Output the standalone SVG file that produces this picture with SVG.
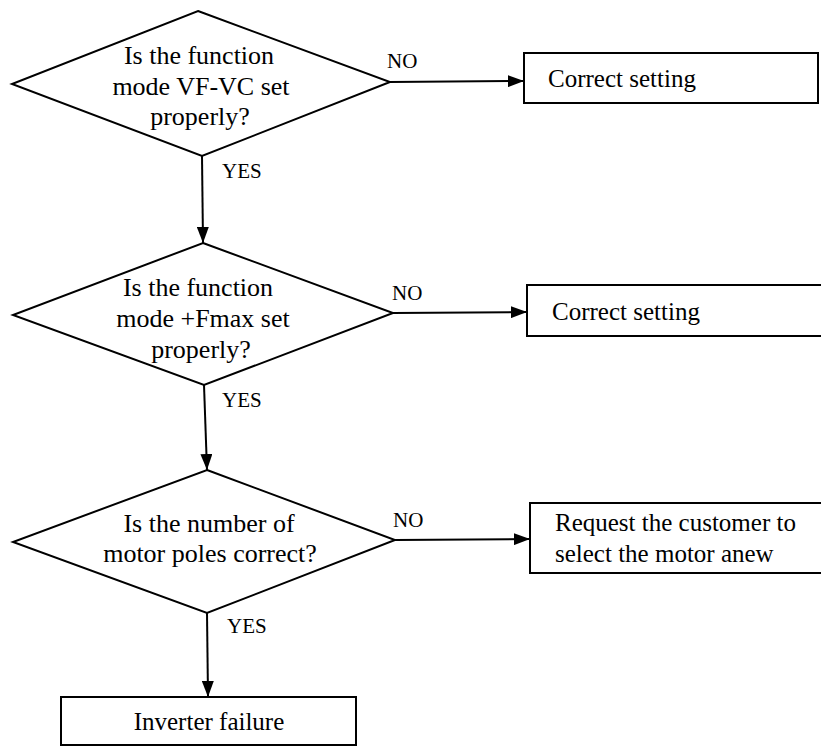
<svg xmlns="http://www.w3.org/2000/svg" width="821" height="749" viewBox="0 0 821 749">
<style>
.shape{fill:#fff;stroke:#000;stroke-width:2}
.ln{fill:none;stroke:#000;stroke-width:2}
.t{font-family:"Liberation Serif","Times New Roman",serif;font-size:26px;fill:#000}
.b{font-family:"Liberation Serif","Times New Roman",serif;font-size:25px;fill:#000}
.lab{font-family:"Liberation Serif","Times New Roman",serif;font-size:21px;fill:#000}
</style>
<defs>
<marker id="ah" markerWidth="16" markerHeight="12" refX="16" refY="6" orient="auto" markerUnits="userSpaceOnUse">
<path d="M0,0 L16,6 L0,12 Z" fill="#000"/>
</marker>
</defs>
<rect width="821" height="749" fill="#fff"/>
<g id="connectors">
<line class="ln" x1="390" y1="82" x2="524" y2="81" marker-end="url(#ah)"/>
<line class="ln" x1="202" y1="156" x2="203" y2="243" marker-end="url(#ah)"/>
<line class="ln" x1="393" y1="313" x2="527" y2="312" marker-end="url(#ah)"/>
<line class="ln" x1="204" y1="385" x2="207" y2="470" marker-end="url(#ah)"/>
<line class="ln" x1="395" y1="540" x2="530" y2="539" marker-end="url(#ah)"/>
<line class="ln" x1="207" y1="613" x2="208" y2="697" marker-end="url(#ah)"/>
<text class="lab" x="387" y="68">NO</text>
<text class="lab" x="222" y="178">YES</text>
<text class="lab" x="392" y="300">NO</text>
<text class="lab" x="222" y="407">YES</text>
<text class="lab" x="393" y="527">NO</text>
<text class="lab" x="227" y="633">YES</text>
</g>
<g id="d1">
<polygon class="shape" points="198,11 390,82 202,156 12,84"/>
<text class="t" text-anchor="middle" x="199" y="64">Is the function</text>
<text class="t" text-anchor="middle" x="201" y="95">mode VF-VC set</text>
<text class="t" text-anchor="middle" x="200" y="125">properly?</text>
</g>
<g id="b1">
<rect class="shape" x="524" y="53" width="294" height="50"/>
<text class="b" x="548" y="87">Correct setting</text>
</g>
<g id="d2">
<polygon class="shape" points="203,243 393,313 204,385 13,315"/>
<text class="t" text-anchor="middle" x="198" y="296">Is the function</text>
<text class="t" text-anchor="middle" x="203" y="327">mode +Fmax set</text>
<text class="t" text-anchor="middle" x="201" y="358">properly?</text>
</g>
<g id="b2">
<rect class="shape" x="527" y="285" width="296" height="51"/>
<text class="b" x="552" y="320">Correct setting</text>
</g>
<g id="d3">
<polygon class="shape" points="207,470 395,540 207,613 13,542"/>
<text class="t" text-anchor="middle" x="209" y="532">Is the number of</text>
<text class="t" text-anchor="middle" x="210" y="562">motor poles correct?</text>
</g>
<g id="b3">
<rect class="shape" x="530" y="503" width="293" height="70"/>
<text class="b" x="555" y="531">Request the customer to</text>
<text class="b" x="555" y="562">select the motor anew</text>
</g>
<g id="b4">
<rect class="shape" x="61" y="697" width="295" height="48"/>
<text class="b" text-anchor="middle" x="209" y="730">Inverter failure</text>
</g>
</svg>
